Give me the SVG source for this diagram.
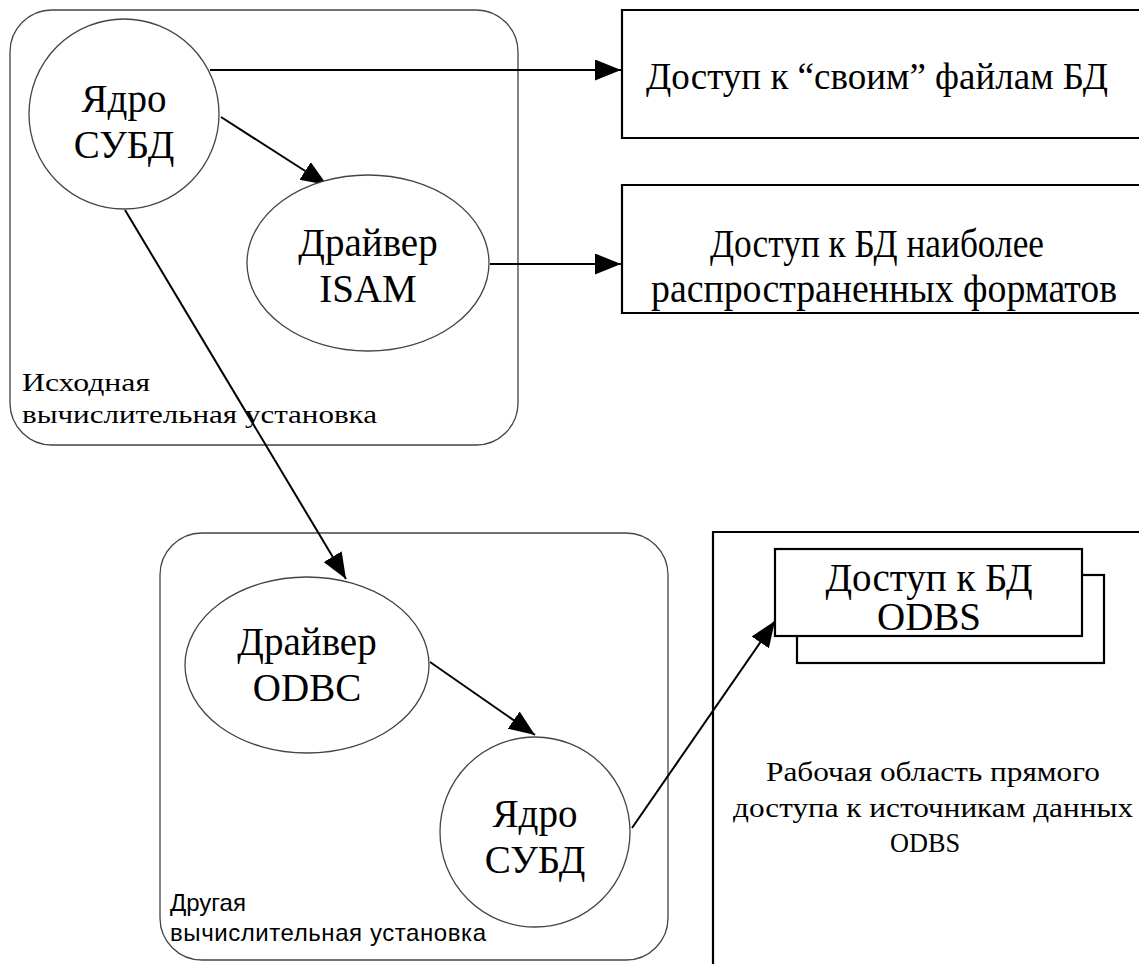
<svg xmlns="http://www.w3.org/2000/svg" width="1139" height="964" viewBox="0 0 1139 964">
<defs>
<marker id="ah" markerUnits="userSpaceOnUse" markerWidth="28" markerHeight="24" refX="26" refY="10.5" orient="auto">
<path d="M0,0 L26,10.5 L0,21 Z" fill="#000"/>
</marker>
</defs>
<style>
.cont{fill:none;stroke:#444;stroke-width:1.3}
.shape{fill:#fff;stroke:#444;stroke-width:1.3}
.box{fill:#fff;stroke:#000;stroke-width:2.2}
.edge{fill:none;stroke:#000;stroke-width:2;marker-end:url(#ah)}
.big{font-family:"Liberation Serif","Times New Roman",serif;font-size:39px;fill:#000;text-anchor:middle}
.mid{font-family:"Liberation Serif","Times New Roman",serif;font-size:28px;fill:#000;text-anchor:middle}
.lbl{font-family:"Liberation Serif","Times New Roman",serif;font-size:26px;fill:#000}
.lbls{font-family:"Liberation Sans",Arial,sans-serif;font-size:24px;fill:#000}
</style>
<rect width="1139" height="964" fill="#fff"/>

<g id="container-top">
<rect class="cont" x="10" y="10" width="508" height="435" rx="42"/>
<text class="lbl" x="22" y="391" textLength="128" lengthAdjust="spacingAndGlyphs">Исходная</text>
<text class="lbl" x="22" y="423" textLength="355" lengthAdjust="spacingAndGlyphs">вычислительная установка</text>
</g>

<g id="container-bottom">
<rect class="cont" x="160" y="533" width="508" height="427" rx="42"/>
<text class="lbls" x="170" y="911">Другая</text>
<text class="lbls" x="170" y="941" textLength="316" lengthAdjust="spacing">вычислительная установка</text>
</g>

<g id="area-right">
<path d="M713,964 L713,532 L1139,532" fill="none" stroke="#000" stroke-width="2.2"/>
<text class="mid" x="933" y="781" textLength="334" lengthAdjust="spacingAndGlyphs">Рабочая область прямого</text>
<text class="mid" x="933" y="817" textLength="400" lengthAdjust="spacingAndGlyphs">доступа к источникам данных</text>
<text class="mid" x="925" y="852" textLength="70" lengthAdjust="spacingAndGlyphs">ODBS</text>
</g>

<g id="connectors">
<line class="edge" x1="210" y1="70" x2="621" y2="70"/>
<line class="edge" x1="221" y1="117" x2="327" y2="185"/>
<line class="edge" x1="490" y1="264" x2="621" y2="264"/>
<line class="edge" x1="125" y1="210" x2="346" y2="579"/>
<line class="edge" x1="430" y1="662" x2="535" y2="735"/>
<line class="edge" x1="632" y1="828" x2="775" y2="621"/>
</g>

<g id="node-core1">
<circle class="shape" cx="124" cy="114" r="95"/>
<text class="big" x="124" y="112">Ядро</text>
<text class="big" x="124" y="158">СУБД</text>
</g>

<g id="node-isam">
<ellipse class="shape" cx="368" cy="263" rx="121" ry="88"/>
<text class="big" x="368" y="256">Драйвер</text>
<text class="big" x="368" y="302">ISAM</text>
</g>

<g id="node-own-files">
<path class="box" d="M1139,10 H622 V138 H1139"/>
<text class="big" x="877" y="89" style="font-size:37px">Доступ к “своим” файлам БД</text>
</g>

<g id="node-common-formats">
<path class="box" d="M1139,185 H622 V313 H1139"/>
<text class="big" x="877" y="257" textLength="334" lengthAdjust="spacingAndGlyphs">Доступ к БД наиболее</text>
<text class="big" x="884" y="302" textLength="466" lengthAdjust="spacingAndGlyphs">распространенных форматов</text>
</g>

<g id="node-odbc">
<ellipse class="shape" cx="307" cy="665" rx="122" ry="88"/>
<text class="big" x="307" y="655">Драйвер</text>
<text class="big" x="307" y="701">ODBC</text>
</g>

<g id="node-core2">
<circle class="shape" cx="535" cy="832" r="95"/>
<text class="big" x="535" y="827">Ядро</text>
<text class="big" x="535" y="873">СУБД</text>
</g>

<g id="node-odbs">
<rect class="box" x="797" y="575" width="307" height="88"/>
<rect class="box" x="775" y="549" width="307" height="87"/>
<text class="big" x="929" y="591">Доступ к БД</text>
<text class="big" x="929" y="630">ODBS</text>
</g>
</svg>
